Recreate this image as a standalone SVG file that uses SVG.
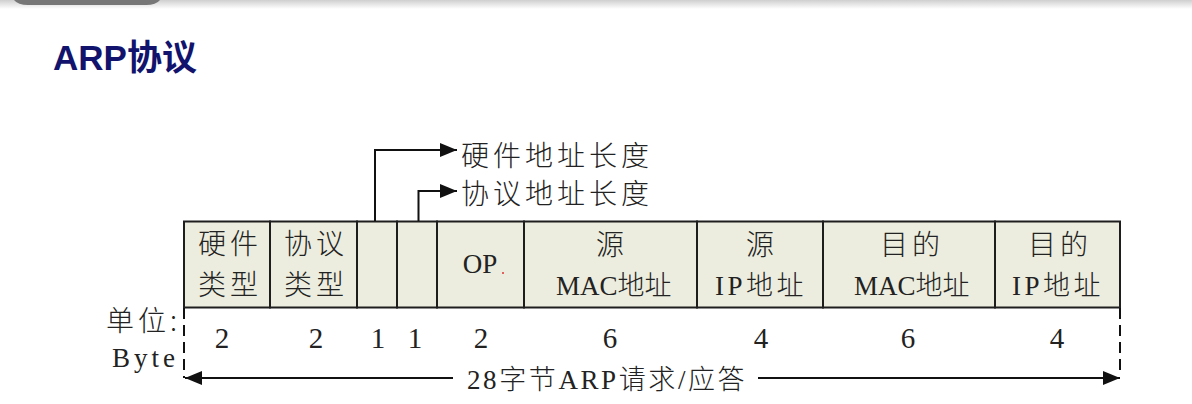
<svg xmlns="http://www.w3.org/2000/svg" width="1192" height="404" viewBox="0 0 1192 404">
<style>
.cell{fill:#ecedde;stroke:#1e1e1e;stroke-width:2}
.cj{font-family:"Noto Sans CJK SC","Liberation Serif",sans-serif;font-size:28px;font-weight:300;fill:#222;letter-spacing:4px}
.mx{font-family:"Liberation Serif","Noto Sans CJK SC",serif;font-size:27px;font-weight:300;fill:#222}
.num{font-family:"Liberation Serif",serif;font-size:29px;fill:#222;text-anchor:middle}
.ln{fill:none;stroke:#111;stroke-width:2}
.dash{fill:none;stroke:#111;stroke-width:2;stroke-dasharray:11 6}
</style>
<defs>
<linearGradient id="topg" x1="0" y1="0" x2="0" y2="1">
<stop offset="0" stop-color="#cfcfcf"/>
<stop offset="1" stop-color="#ffffff"/>
</linearGradient>
<marker id="ah" viewBox="0 0 17 14" refX="17" refY="7" markerWidth="17" markerHeight="14" markerUnits="userSpaceOnUse" orient="auto">
<path d="M0,0 L17,7 L0,14 Z" fill="#111"/>
</marker>
</defs>
<rect x="0" y="0" width="1192" height="9" fill="url(#topg)"/>
<path d="M14,0 H160 Q156,5 146,5 H28 Q18,5 14,0 Z" fill="#777"/>
<text x="53" y="70" font-family="Liberation Sans,'Noto Sans CJK SC',sans-serif" font-size="35" font-weight="bold" fill="#12136c">ARP协议</text>

<g id="c1"><rect class="cell" x="184" y="221.5" width="86" height="86"/><text class="cj" x="198" y="254">硬件</text><text class="cj" x="198" y="295">类型</text></g>
<g id="c2"><rect class="cell" x="270" y="221.5" width="87" height="86"/><text class="cj" x="284" y="254">协议</text><text class="cj" x="284" y="295">类型</text></g>
<g id="c3"><rect class="cell" x="357" y="221.5" width="40" height="86"/></g>
<g id="c4"><rect class="cell" x="397" y="221.5" width="40" height="86"/></g>
<g id="c5"><rect class="cell" x="437" y="221.5" width="87" height="86"/><text class="mx" x="480" y="273" text-anchor="middle">OP</text><circle cx="503" cy="273" r="1" fill="#e03030"/></g>
<g id="c6"><rect class="cell" x="524" y="221.5" width="173" height="86"/><text class="cj" x="596" y="255">源</text><text class="mx" x="556" y="295">MAC地址</text></g>
<g id="c7"><rect class="cell" x="697" y="221.5" width="126" height="86"/><text class="cj" x="746" y="255">源</text><text class="mx" x="715" y="295" letter-spacing="3.5">IP地址</text></g>
<g id="c8"><rect class="cell" x="823" y="221.5" width="172" height="86"/><text class="cj" x="880" y="255">目的</text><text class="mx" x="854" y="295">MAC地址</text></g>
<g id="c9"><rect class="cell" x="995" y="221.5" width="125" height="86"/><text class="cj" x="1028" y="255">目的</text><text class="mx" x="1012" y="295" letter-spacing="3.5">IP地址</text></g>

<g id="labels">
<text class="cj" x="461" y="166">硬件地址长度</text>
<text class="cj" x="461" y="204">协议地址长度</text>
<text class="cj" x="106" y="331" letter-spacing="2">单位:</text>
<text class="mx" x="112" y="367" letter-spacing="4">Byte</text>
<text class="mx" x="467" y="389" font-size="29" letter-spacing="2.6">28字节ARP请求/应答</text>
</g>

<g id="sizes">
<text class="num" x="222" y="348">2</text>
<text class="num" x="316" y="348">2</text>
<text class="num" x="378" y="348">1</text>
<text class="num" x="415" y="348">1</text>
<text class="num" x="481" y="348">2</text>
<text class="num" x="610" y="348">6</text>
<text class="num" x="761" y="348">4</text>
<text class="num" x="908" y="348">6</text>
<text class="num" x="1057" y="348">4</text>
</g>

<g id="connectors">
<path class="ln" d="M375,221 V150 H457" marker-end="url(#ah)"/>
<path class="ln" d="M418.5,221 V191 H457" marker-end="url(#ah)"/>
<path class="dash" d="M184,308 V378"/>
<path class="dash" d="M1120,308 V372"/>
<path class="ln" d="M453,378 H185" marker-end="url(#ah)"/>
<path class="ln" d="M758,378 H1120" marker-end="url(#ah)"/>
</g>
</svg>
